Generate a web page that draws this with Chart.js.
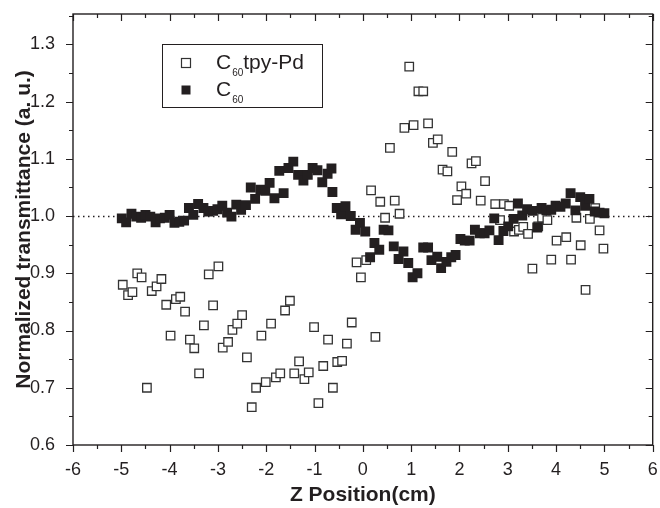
<!DOCTYPE html>
<html>
<head>
<meta charset="utf-8">
<script src="https://cdn.jsdelivr.net/npm/chart.js@4.4.0/dist/chart.umd.min.js"></script>
<style>
  html, body { margin: 0; padding: 0; background: #fff; }
</style>
</head>
<body>
<canvas id="chart" width="660" height="508"></canvas>
<script>
// C60tpy-Pd, open squares (z position in cm, normalized transmittance)
const pdZ = [-4.97, -4.86, -4.77, -4.67, -4.58, -4.47, -4.37, -4.27, -4.17, -4.07,
  -3.98, -3.87, -3.78, -3.68, -3.58, -3.49, -3.39, -3.29, -3.19, -3.10,
  -2.99, -2.90, -2.79, -2.70, -2.60, -2.50, -2.40, -2.30, -2.21, -2.10,
  -2.01, -1.90, -1.80, -1.71, -1.61, -1.51, -1.42, -1.32, -1.21, -1.12,
  -1.01, -0.92, -0.82, -0.72, -0.62, -0.53, -0.43, -0.33, -0.23, -0.13,
  -0.04, 0.07, 0.17, 0.26, 0.36, 0.46, 0.56, 0.66, 0.76, 0.86,
  0.96, 1.05, 1.15, 1.25, 1.35, 1.45, 1.55, 1.65, 1.75, 1.85,
  1.95, 2.04, 2.14, 2.25, 2.34, 2.44, 2.53, 2.74, 2.84, 2.92,
  3.03, 3.13, 3.23, 3.32, 3.42, 3.51, 3.63, 3.71, 3.82, 3.90,
  4.01, 4.21, 4.31, 4.42, 4.51, 4.61, 4.70, 4.81, 4.90, 4.98];
const pdT = [0.880, 0.862, 0.867, 0.900, 0.893, 0.700, 0.869, 0.877, 0.890, 0.845,
  0.791, 0.855, 0.859, 0.833, 0.784, 0.769, 0.725, 0.809, 0.898, 0.844,
  0.912, 0.770, 0.780, 0.801, 0.812, 0.827, 0.753, 0.666, 0.700, 0.791,
  0.710, 0.812, 0.718, 0.725, 0.835, 0.852, 0.725, 0.746, 0.715, 0.727,
  0.806, 0.673, 0.738, 0.784, 0.700, 0.745, 0.747, 0.777, 0.814, 0.919,
  0.893, 0.923, 1.045, 0.789, 1.025, 0.997, 1.119, 1.027, 1.004, 1.154,
  1.261, 1.159, 1.218, 1.218, 1.162, 1.128, 1.134, 1.081, 1.078, 1.112,
  1.028, 1.052, 1.039, 1.092, 1.096, 1.027, 1.061, 1.021, 0.993, 1.021,
  1.018, 0.973, 0.976, 0.981, 0.969, 0.908, 0.982, 0.997, 0.993, 0.924,
  0.957, 0.963, 0.924, 0.997, 0.949, 0.871, 0.995, 1.014, 0.975, 0.943];

// C60, filled squares
const c60Z = [-4.99, -4.90, -4.79, -4.69, -4.59, -4.50, -4.40, -4.29, -4.20, -4.10,
  -4.00, -3.90, -3.80, -3.70, -3.60, -3.51, -3.41, -3.30, -3.20, -3.10,
  -3.01, -2.91, -2.81, -2.72, -2.62, -2.52, -2.42, -2.32, -2.23, -2.12,
  -2.02, -1.93, -1.83, -1.73, -1.64, -1.54, -1.44, -1.34, -1.23, -1.14,
  -1.04, -0.94, -0.84, -0.73, -0.65, -0.63, -0.54, -0.45, -0.36, -0.25,
  -0.15, -0.06, 0.05, 0.15, 0.24, 0.34, 0.43, 0.53, 0.64, 0.74,
  0.84, 0.94, 1.03, 1.13, 1.25, 1.35, 1.42, 1.54, 1.62, 1.73,
  1.83, 1.92, 2.02, 2.11, 2.21, 2.32, 2.42, 2.52, 2.62, 2.72,
  2.81, 2.91, 3.01, 3.12, 3.21, 3.30, 3.40, 3.51, 3.61, 3.70,
  3.80, 3.90, 3.99, 4.09, 4.20, 4.30, 4.40, 4.50, 4.60, 4.69,
  4.80, 4.90, 5.00];
const c60T = [0.996, 0.989, 1.004, 0.999, 0.997, 1.002, 0.999, 0.989, 0.996, 0.997,
  1.002, 0.988, 0.990, 0.992, 1.014, 1.002, 1.021, 1.014, 1.008, 1.009,
  1.012, 1.018, 1.006, 0.999, 1.020, 1.011, 1.019, 1.050, 1.030, 1.046,
  1.044, 1.058, 1.031, 1.079, 1.040, 1.084, 1.095, 1.072, 1.062, 1.072,
  1.084, 1.080, 1.059, 1.074, 1.083, 1.042, 1.014, 1.003, 1.017, 1.000,
  0.976, 0.988, 0.973, 0.928, 0.953, 0.941, 0.976, 0.975, 0.947, 0.925,
  0.938, 0.918, 0.893, 0.900, 0.945, 0.945, 0.923, 0.929, 0.909, 0.920,
  0.928, 0.932, 0.960, 0.957, 0.957, 0.976, 0.970, 0.970, 0.975, 0.996,
  0.958, 0.974, 0.982, 0.995, 1.022, 1.001, 1.012, 1.009, 0.980, 1.014,
  1.010, 1.011, 1.018, 1.016, 1.022, 1.040, 1.010, 1.033, 1.018, 1.030,
  1.008, 1.006, 1.005];

const xTicks = [-6, -5, -4, -3, -2, -1, 0, 1, 2, 3, 4, 5, 6];
const yTicks = [0.6, 0.7, 0.8, 0.9, 1.0, 1.1, 1.2, 1.3];
const xMinorStep = 0.5;
const yMinorStep = 0.05;
const referenceLevel = 1.0;

const ink = '#231f20';
const fontFamily = '"Liberation Sans", Arial, Helvetica, sans-serif';

function toPoints(xs, ys) {
    return xs.map((x, i) => ({ x: x, y: ys[i] }));
}

// frame, tick marks, dotted 1.0 line and the boxed legend
const decorPlugin = {
    id: 'decor',
    beforeDatasetsDraw(chart) {
        const { ctx, chartArea, scales } = chart;
        const y = Math.round(scales.y.getPixelForValue(referenceLevel)) + 0.5;
        ctx.save();
        ctx.strokeStyle = ink;
        ctx.lineWidth = 1.3;
        ctx.setLineDash([1.5, 3.5]);
        ctx.beginPath();
        ctx.moveTo(chartArea.left, y);
        ctx.lineTo(chartArea.right, y);
        ctx.stroke();
        ctx.restore();
    },
    afterDraw(chart) {
        const { ctx, chartArea: a, scales } = chart;
        ctx.save();
        ctx.strokeStyle = ink;
        ctx.lineWidth = 1.4;
        ctx.strokeRect(a.left, a.top, a.right - a.left, a.bottom - a.top);

        ctx.lineWidth = 1.2;
        ctx.beginPath();
        const xs = scales.x;
        for (let v = xs.min; v <= xs.max + 1e-9; v += xMinorStep) {
            const px = Math.round(xs.getPixelForValue(v)) + 0.5;
            const major = Math.abs(v - Math.round(v)) < 1e-6;
            const len = major ? 7 : 4;
            ctx.moveTo(px, a.bottom); ctx.lineTo(px, a.bottom + len);
            ctx.moveTo(px, a.top); ctx.lineTo(px, a.top + len);
        }
        const ys = scales.y;
        for (let v = 0.6; v <= ys.max + 1e-9; v += yMinorStep) {
            const py = Math.round(ys.getPixelForValue(v)) + 0.5;
            const major = Math.abs(v * 10 - Math.round(v * 10)) < 1e-6;
            const len = major ? 7 : 4;
            ctx.moveTo(a.left, py); ctx.lineTo(a.left - len, py);
            ctx.moveTo(a.right, py); ctx.lineTo(a.right - len, py);
        }
        ctx.stroke();

        // legend
        ctx.lineWidth = 1;
        ctx.strokeRect(162.5, 44.5, 160, 63);
        const sets = chart.data.datasets;
        const rows = [
            { ds: sets[1], cy: 63, base: 69, tail: 'tpy-Pd' },
            { ds: sets[0], cy: 90, base: 96, tail: '' }
        ];
        rows.forEach(r => {
            const s = 9;
            ctx.fillStyle = r.ds.backgroundColor;
            ctx.fillRect(186 - s / 2, r.cy - s / 2, s, s);
            if (r.ds.borderWidth) {
                ctx.lineWidth = 1.2;
                ctx.strokeStyle = r.ds.borderColor;
                ctx.strokeRect(186 - s / 2, r.cy - s / 2, s, s);
            }
            ctx.fillStyle = ink;
            ctx.textBaseline = 'alphabetic';
            ctx.textAlign = 'left';
            ctx.font = '21px ' + fontFamily;
            ctx.fillText('C', 216, r.base);
            let x = 216 + ctx.measureText('C').width + 1;
            ctx.font = '10px ' + fontFamily;
            ctx.fillText('60', x, r.base + 7);
            x += ctx.measureText('60').width;
            ctx.font = '21px ' + fontFamily;
            if (r.tail) ctx.fillText(r.tail, x, r.base);
        });
        ctx.restore();
    }
};

new Chart(document.getElementById('chart'), {
    type: 'scatter',
    data: {
        datasets: [
            {
                label: 'C60',
                data: toPoints(c60Z, c60T),
                pointStyle: 'rect',
                pointRadius: 7,
                pointHoverRadius: 7,
                backgroundColor: ink,
                borderColor: ink,
                borderWidth: 0,
                order: 0
            },
            {
                label: 'C60tpy-Pd',
                data: toPoints(pdZ, pdT),
                pointStyle: 'rect',
                pointRadius: 6,
                pointHoverRadius: 6,
                backgroundColor: '#ffffff',
                borderColor: '#333333',
                borderWidth: 1.3,
                order: 1
            }
        ]
    },
    options: {
        responsive: false,
        animation: false,
        devicePixelRatio: 1,
        layout: { padding: { top: 14, right: 3, left: 0, bottom: 0 } },
        plugins: {
            legend: { display: false },
            tooltip: { enabled: false }
        },
        scales: {
            x: {
                type: 'linear',
                min: -6,
                max: 6,
                afterBuildTicks: s => { s.ticks = xTicks.map(v => ({ value: v })); },
                afterFit: s => { s.height = 63; s.paddingLeft = 0; s.paddingRight = 0; },
                grid: { display: false },
                border: { display: false },
                ticks: {
                    padding: 6,
                    autoSkip: false,
                    maxRotation: 0,
                    color: ink,
                    font: { family: fontFamily, size: 18 },
                    callback: v => String(v)
                },
                title: {
                    display: true,
                    text: 'Z Position(cm)',
                    color: ink,
                    font: { family: fontFamily, size: 21, weight: 'bold' },
                    padding: { top: 0, bottom: 0 }
                }
            },
            y: {
                type: 'linear',
                min: 0.6,
                max: 1.353,
                afterBuildTicks: s => { s.ticks = yTicks.map(v => ({ value: v })); },
                afterFit: s => { s.width = 73; s.paddingTop = 0; s.paddingBottom = 0; },
                grid: { display: false },
                border: { display: false },
                ticks: {
                    padding: 10,
                    color: ink,
                    font: { family: fontFamily, size: 18 },
                    callback: v => v.toFixed(1)
                },
                title: {
                    display: true,
                    text: 'Normalized transmittance (a. u.)',
                    color: ink,
                    font: { family: fontFamily, size: 21, weight: 'bold' },
                    padding: { top: 12, bottom: 0 }
                }
            }
        }
    },
    plugins: [decorPlugin]
});
</script>
</body>
</html>
